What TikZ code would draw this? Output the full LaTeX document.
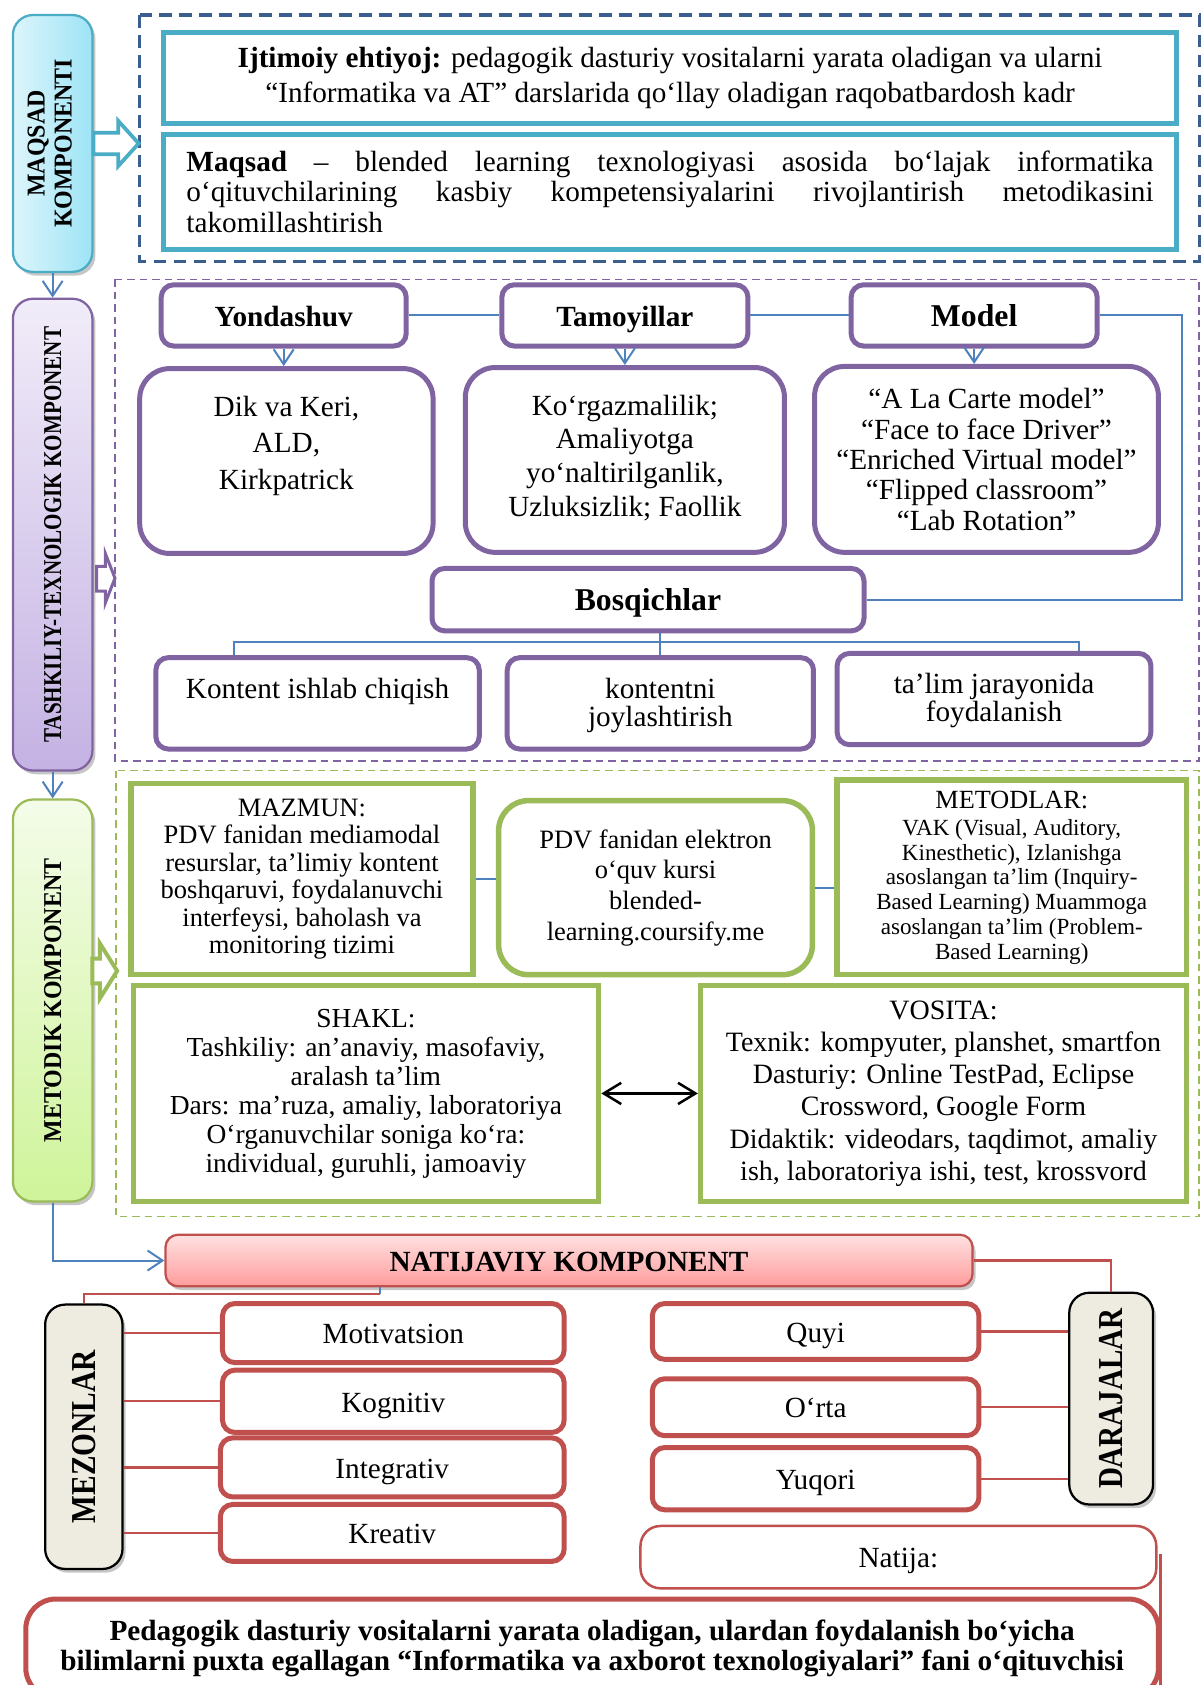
\documentclass[tikz,border=0pt]{standalone}
\usepackage{fontspec}
\setmainfont{Liberation Serif}
\usepackage{graphicx}
\usetikzlibrary{positioning}
\usetikzlibrary{arrows.meta}
\usetikzlibrary{shadows}

\definecolor{kok}{HTML}{4BACC6}
\definecolor{kokoch}{HTML}{DDF5FB}
\definecolor{kokto}{HTML}{9DE4F6}
\definecolor{tq}{HTML}{3A5F8F}
\definecolor{bin}{HTML}{8064A2}
\definecolor{binoch}{HTML}{F1ECF9}
\definecolor{binto}{HTML}{C4B2E3}
\definecolor{chiz}{HTML}{4F81BD}
\definecolor{yas}{HTML}{9BBB59}
\definecolor{yasoch}{HTML}{F4FCE9}
\definecolor{yasto}{HTML}{CFF49A}
\definecolor{qiz}{HTML}{C0504D}
\definecolor{qizoch}{HTML}{FFE1E1}
\definecolor{qizto}{HTML}{FF9C9C}
\definecolor{qum}{HTML}{EEECE1}

\newcommand{\fs}[2]{\fontsize{#1}{#2}\selectfont}

\tikzset{
  quti/.style n args={4}{at={({(#1+#3)/2},{(#2+#4)/2})},
    minimum width={(#3-#1)*0.43pt}, minimum height={(#4-#2)*0.43pt}},
  box/.style={inner sep=0pt, align=center, fill=white},
  bir/.style={text height=10pt, text depth=1.4pt},
  kokbox/.style={box, draw=kok, line width=2pt},
  binbox/.style={box, draw=bin, line width=2pt, rounded corners=5pt},
  binkatta/.style={binbox, rounded corners=12pt},
  yasbox/.style={box, draw=yas, line width=2.2pt},
  qizbox/.style={box, draw=qiz, line width=2pt, rounded corners=5pt},
  yon/.style={inner sep=0pt, align=center, rounded corners=8pt, line width=0.9pt,
    drop shadow={shadow xshift=1.2pt, shadow yshift=-1.5pt, opacity=.45}},
  chiziq/.style={draw=chiz, line width=0.8pt},
  uch/.style={chiziq, -{Straight Barb[length=6pt,width=8pt]}},
  qchiziq/.style={draw=qiz, line width=0.9pt},
  qora/.style={draw=black, line width=1pt,
    {Straight Barb[length=7pt,width=8.5pt]}-{Straight Barb[length=7pt,width=8.5pt]}},
  blok/.style={line width=1.5pt, fill=white, line join=miter},
}

\begin{document}
\begin{tikzpicture}[x=0.43pt, y=-0.43pt, font=\fs{11.7}{13.8}]
\clip (0,0) rectangle (1118,1568);

% ramkalar
\draw[tq, line width=1.3pt, dash pattern=on 5pt off 3pt] (130,14) rectangle (1116,243);
\draw[bin, line width=0.7pt, dash pattern=on 3pt off 2pt] (107,260) rectangle (1116,708);
\draw[yas, line width=0.7pt, dash pattern=on 3pt off 2pt] (108,717) rectangle (1116,1132);

% chap ustun
\node[yon, draw=kok, left color=kokoch, right color=kokto, quti={12}{14}{86}{253}] (maqk)
  {\rotatebox{90}{\scalebox{0.93}[1]{\fs{10.3}{10.8}\bfseries\begin{tabular}{@{}c@{}}MAQSAD\\KOMPONENTI\end{tabular}}}};
\node[yon, draw=bin, top color=binoch, bottom color=binto, quti={12}{278}{86}{717}] (tashk)
  {\rotatebox{90}{\scalebox{0.82}[1]{\fs{10.3}{11}\bfseries TASHKILIY-TEXNOLOGIK KOMPONENT}}};
\node[yon, draw=yas, top color=yasoch, bottom color=yasto, quti={12}{744}{86}{1118}] (metk)
  {\rotatebox{90}{\scalebox{0.93}[1]{\fs{10.3}{11}\bfseries METODIK KOMPONENT}}};
\draw[uch] (maqk.south) -- (tashk.north);
\draw[uch] (tashk.south) -- (metk.north);

% blok strelkalar
\draw[blok, draw=kok] (maqk.east) ++(0,-10) -- ++(23,0) -- ++(0,-11) -- ++(19,21) -- ++(-19,21) -- ++(0,-11) -- ++(-23,0) -- cycle;
\draw[blok, draw=bin, line width=1.2pt] (90,527) -- (98,527) -- (98,515) -- (107,538) -- (98,561) -- (98,550) -- (90,550) -- cycle;
\draw[blok, draw=yas, line width=1.6pt] (86,892) -- (93,892) -- (93,878) -- (109,903.5) -- (93,929) -- (93,915) -- (86,915) -- cycle;

% maqsad komponenti
\node[kokbox, quti={152}{30}{1095}{115}] (ehtiyoj)
  {\textbf{Ijtimoiy ehtiyoj:} pedagogik dasturiy vositalarni yarata oladigan va ularni\\“Informatika va AT” darslarida qo‘llay oladigan raqobatbardosh kadr};
\node[kokbox, quti={152}{125}{1095}{232}, text width=387pt, align=justify, font=\fs{11.7}{12.3}] (maqsad)
  {\textbf{Maqsad} – blended learning texnologiyasi asosida bo‘lajak informatika\linebreak
   o‘qituvchilarining kasbiy kompetensiyalarini rivojlantirish metodikasini\linebreak
   takomillashtirish};

% tashkiliy-texnologik komponent
\node[binbox, bir, quti={150}{265}{378}{322}, font=\fs{11.7}{13.8}\bfseries] (yond) {Yondashuv};
\node[binbox, bir, quti={467}{265}{696}{322}, font=\fs{11.7}{13.8}\bfseries] (tamo) {Tamoyillar};
\node[binbox, bir, quti={792}{265}{1021}{322}, font=\fs{12.7}{13.8}\bfseries] (model) {Model};
\node[binkatta, quti={130}{343}{403}{515}, font=\fs{11.7}{14.6}] (dik) {Dik va Keri,\\ALD,\\Kirkpatrick\\[0pt]\mbox{}};
\node[binkatta, quti={433}{342}{730}{514}, font=\fs{11.7}{13.5}] (korg) {Ko‘rgazmalilik;\\Amaliyotga\\yo‘naltirilganlik,\\Uzluksizlik; Faollik\\[-10pt]\mbox{}};
\node[binkatta, quti={758}{341}{1078}{514}, font=\fs{11.7}{12.15}] (mlist)
  {“A La Carte model”\\“Face to face Driver”\\“Enriched Virtual model”\\“Flipped classroom”\\“Lab Rotation”};
\node[binbox, bir, quti={402}{529}{804}{587}, font=\fs{12.7}{13.8}\bfseries] (bosq) {Bosqichlar};
\node[binbox, quti={145}{612}{446}{697}] (st1) {Kontent ishlab chiqish\\[-1.6pt]\mbox{}};
\node[binbox, quti={472}{612}{757}{697}, font=\fs{11.7}{11.2}] (st2) {kontentni\\joylashtirish\\[-10.2pt]\mbox{}};
\node[binbox, quti={779}{608}{1071}{693}, font=\fs{11.7}{11.2}] (st3) {ta’lim jarayonida\\foydalanish\\[-9.7pt]\mbox{}};

\draw[chiziq] (yond.east) -- (tamo.west);
\draw[chiziq] (tamo.east) -- (model.west);
\coordinate (mr) at (1100,294);
\draw[chiziq] (model.east) -- (model.east -| mr) |- (bosq.east);
\draw[uch] (yond.south) -- (yond.south |- dik.north);
\draw[uch] (tamo.south) -- (tamo.south |- korg.north);
\draw[uch] (model.south) -- (model.south |- mlist.north);
\coordinate (b1) at (218,597);
\coordinate (b3) at (1004,597);
\draw[chiziq] (st1.north -| b1) -- (b1) -- (b3) -- (st3.north -| b3);
\draw[chiziq] (bosq.south -| st2.north) -- (st2.north);

% metodik komponent
\node[yasbox, quti={122}{729}{440}{907}, font=\fs{10.6}{11}] (mazmun)
  {MAZMUN:\\PDV fanidan mediamodal\\resurslar, ta’limiy kontent\\boshqaruvi, foydalanuvchi\\interfeysi, baholash va\\monitoring tizimi};
\node[yasbox, rounded corners=12pt, quti={464}{745}{756}{907}, font=\fs{10.6}{12.3}] (pdv)
  {PDV fanidan elektron\\o‘quv kursi\\blended-\\learning.coursify.me};
\node[yasbox, quti={779}{726}{1104}{907}, font=\fs{9.25}{9.9}] (metod)
  {{\fs{10.5}{10}METODLAR:}\\[1pt]VAK (Visual, Auditory,\\Kinesthetic), Izlanishga\\asoslangan ta’lim (Inquiry-\\Based Learning) Muammoga\\asoslangan ta’lim (Problem-\\Based Learning)};
\node[yasbox, quti={124}{917}{557}{1118}, font=\fs{11}{11.6}] (shakl)
  {SHAKL:\\Tashkiliy: an’anaviy, masofaviy,\\aralash ta’lim\\Dars: ma’ruza, amaliy, laboratoriya\\O‘rganuvchilar soniga ko‘ra:\\individual, guruhli, jamoaviy};
\node[yasbox, quti={652}{917}{1104}{1118}, font=\fs{11.2}{12.9}] (vosita)
  {VOSITA:\\Texnik: kompyuter, planshet, smartfon\\Dasturiy: Online TestPad, Eclipse\\Crossword, Google Form\\Didaktik: videodars, taqdimot, amaliy\\ish, laboratoriya ishi, test, krossvord};
\draw[chiziq] (mazmun.east) -- (mazmun.east -| pdv.west);
\draw[chiziq] (pdv.east) -- (pdv.east -| metod.west);
\draw[qora] (shakl.east) -- (vosita.west);

% natijaviy komponent
\node[yon, bir, rounded corners=5pt, draw=qiz, top color=qizoch, bottom color=qizto, quti={154}{1149}{905}{1197}, font=\fs{11.7}{13.8}\bfseries] (natk) {NATIJAVIY KOMPONENT};
\draw[uch] (metk.south) |- (natk.west);
\node[yon, draw=black, fill=qum, quti={42}{1214}{114}{1460}] (mezon)
  {\rotatebox{90}{\scalebox{0.84}[1]{\fs{14}{15}\bfseries MEZONLAR}}};
\node[yon, draw=black, fill=qum, quti={995}{1203}{1073}{1400}] (daraj)
  {\rotatebox{90}{\scalebox{0.83}[1]{\fs{14}{15}\bfseries DARAJALAR}}};
\coordinate (nk) at (354,1204);
\draw[chiziq] (natk.south -| nk) -- (nk);
\draw[qchiziq] (nk) -| (mezon.north);
\draw[qchiziq] (natk.east) -| (daraj.north);

\node[qizbox, bir, quti={207}{1213}{525}{1268}] (mot) {Motivatsion};
\node[qizbox, bir, quti={207}{1275}{525}{1333}] (kog) {Kognitiv};
\node[qizbox, bir, quti={205}{1338}{525}{1393}] (integ) {Integrativ};
\node[qizbox, bir, quti={205}{1400}{525}{1453}] (krea) {Kreativ};
\foreach \n in {mot,kog,integ,krea}
  \draw[qchiziq] (\n.west -| mezon.east) -- (\n.west);

\node[qizbox, bir, quti={607}{1213}{911}{1265}] (quyi) {Quyi};
\node[qizbox, bir, quti={607}{1283}{911}{1336}] (orta) {O‘rta};
\node[qizbox, bir, quti={607}{1347}{911}{1405}] (yuq) {Yuqori};
\foreach \n in {quyi,orta,yuq}
  \draw[qchiziq] (\n.east) -- (\n.east -| daraj.west);

\node[qizbox, bir, line width=1pt, rounded corners=8pt, quti={596}{1420}{1076}{1478}] (natija) {Natija:};
\node[qizbox, line width=2pt, rounded corners=12pt, quti={24}{1488}{1078}{1580}, font=\fs{11.7}{12}\bfseries] (result)
  {Pedagogik dasturiy vositalarni yarata oladigan, ulardan foydalanish bo‘yicha\\bilimlarni puxta egallagan “Informatika va axborot texnologiyalari” fani o‘qituvchisi};
\coordinate (nb) at (1080,1446);
\draw[qchiziq] (nb) -- (nb |- result.south);
\end{tikzpicture}
\end{document}
